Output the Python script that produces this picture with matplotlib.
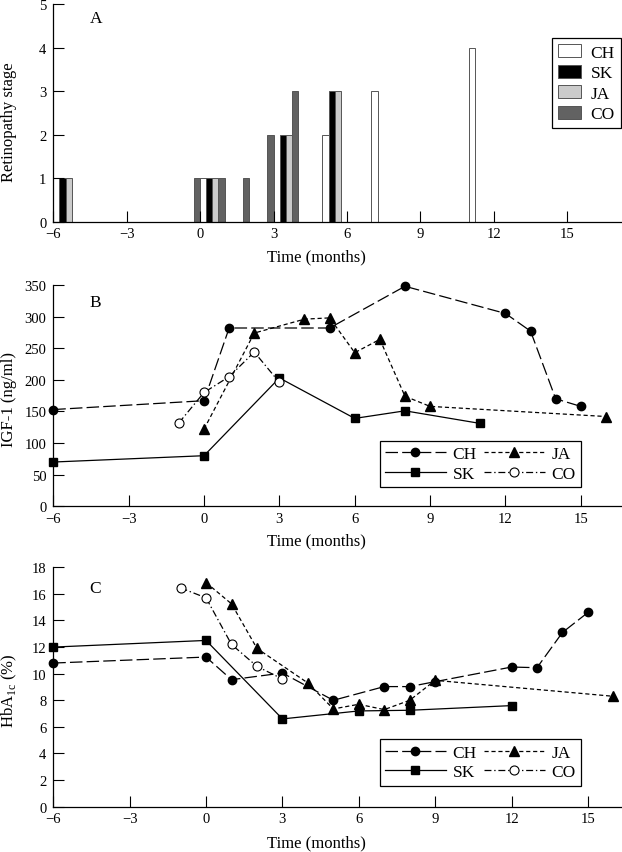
import matplotlib
matplotlib.use('Agg')
import matplotlib.pyplot as plt
from matplotlib.patches import Patch
from matplotlib.lines import Line2D

plt.rcParams['font.family'] = ['Liberation Serif', 'DejaVu Serif']
plt.rcParams['mathtext.fontset'] = 'custom'
plt.rcParams['mathtext.rm'] = 'Liberation Serif'
plt.rcParams['lines.scale_dashes'] = False

# ---------------- Data ----------------
patients = ['CH', 'SK', 'JA', 'CO']

# Panel A: retinopathy stage
ret_ch_t = [0, 5, 7, 11]
ret_ch_v = [1, 2, 3, 4]
ret_sk_t = [-6, 0, 3, 5]
ret_sk_v = [1, 1, 2, 3]
ret_ja_t = [-6, 0, 3, 5]
ret_ja_v = [1, 1, 2, 3]
ret_co_t = [0, 1, 2, 3, 4]
ret_co_v = [1, 1, 1, 2, 3]

# Panel B: IGF-1 (ng/ml)
igf_ch_t = [-6, 0, 1, 5, 8, 12, 13, 14, 15]
igf_ch_v = [153, 167, 282, 282, 348, 305, 277, 170, 158]
igf_sk_t = [-6, 0, 3, 6, 8, 11]
igf_sk_v = [70, 80, 203, 139, 151, 131]
igf_ja_t = [0, 2, 4, 5, 6, 7, 8, 9, 16]
igf_ja_v = [122, 274, 296, 298, 243, 264, 174, 158, 142]
igf_co_t = [-1, 0, 1, 2, 3]
igf_co_v = [132, 180, 205, 244, 196]

# Panel C: HbA1c (%)
hba_ch_t = [-6, 0, 1, 3, 5, 7, 8, 9, 12, 13, 14, 15]
hba_ch_v = [10.8, 11.25, 9.55, 10.05, 8.0, 9.03, 9.03, 9.4, 10.5, 10.45, 13.1, 14.6]
hba_sk_t = [-6, 0, 3, 6, 8, 12]
hba_sk_v = [12.0, 12.5, 6.6, 7.2, 7.25, 7.6]
hba_ja_t = [0, 1, 2, 4, 5, 6, 7, 8, 9, 16]
hba_ja_v = [16.85, 15.25, 11.9, 9.3, 7.35, 7.7, 7.3, 8.0, 9.5, 8.3]
hba_co_t = [-1, 0, 1, 2, 3]
hba_co_v = [16.45, 15.7, 12.2, 10.55, 9.6]

xticks = [-6, -3, 0, 3, 6, 9, 12, 15]

# ---------------- Figure ----------------
fig = plt.figure(figsize=(6.22, 8.53), dpi=100)
left, width = 0.0857, 0.9127
axA = fig.add_axes([left, 0.7389, width, 0.2549])
axB = fig.add_axes([left, 0.4053, width, 0.2594])
axC = fig.add_axes([left, 0.0531, width, 0.2807])

LBL = 12
TCK = 10.5


def style(ax):
    for s in ['top', 'right']:
        ax.spines[s].set_visible(False)
    for s in ['left', 'bottom']:
        ax.spines[s].set_linewidth(0.9)
    ax.tick_params(direction='in', length=8, width=0.8, labelsize=TCK)
    ax.tick_params(axis='y', pad=5)
    ax.tick_params(axis='x', pad=4)
    ax.set_xticks(xticks)


# ---- Panel A ----
bar_w = 0.25
bar_specs = [
    (ret_co_t, ret_co_v, -0.25, '#626262'),
    (ret_ch_t, ret_ch_v, 0.0, 'white'),
    (ret_sk_t, ret_sk_v, 0.25, 'black'),
    (ret_ja_t, ret_ja_v, 0.5, '#cbcbcb'),
]
for t, v, off, col in bar_specs:
    axA.bar([x + off for x in t], v, width=bar_w, align='edge', color=col,
            edgecolor='#555555', linewidth=0.7)
style(axA)
axA.set_xlim(-6, 17.2)
axA.set_ylim(0, 5)
axA.set_yticks(range(6))
axA.set_ylabel('Retinopathy stage', fontsize=LBL)
axA.set_xlabel('Time (months)', fontsize=LBL)
axA.text(0.064, 0.937, 'A', transform=axA.transAxes, fontsize=12.5,
         ha='left', va='center')
a_handles = [Patch(facecolor='white', edgecolor='#555555', lw=0.7),
             Patch(facecolor='black', edgecolor='#555555', lw=0.7),
             Patch(facecolor='#cbcbcb', edgecolor='#555555', lw=0.7),
             Patch(facecolor='#626262', edgecolor='#555555', lw=0.7)]
legA = axA.legend(a_handles, patients, loc='upper right', bbox_to_anchor=(1.0, 0.845),
                  fontsize=12.5, frameon=True, fancybox=False, framealpha=1,
                  edgecolor='black', handlelength=1.35, handleheight=0.8,
                  handletextpad=0.55, labelspacing=0.22, borderpad=0.35,
                  borderaxespad=0)
legA.get_frame().set_linewidth(0.9)

# ---- line styles ----
sty = {
    'CH': dict(color='black', lw=0.9, linestyle=(0, (9, 3)), marker='o',
               markersize=6, markerfacecolor='black', markeredgecolor='black'),
    'SK': dict(color='black', lw=0.9, linestyle='-', marker='s',
               markersize=5.5, markerfacecolor='black', markeredgecolor='black'),
    'JA': dict(color='black', lw=0.9, linestyle=(0, (3, 2)), marker='^',
               markersize=6.5, markerfacecolor='black', markeredgecolor='black'),
    'CO': dict(color='black', lw=0.9, linestyle=(0, (5, 2, 1, 2)), marker='o',
               markersize=6.5, markerfacecolor='white', markeredgecolor='black',
               markeredgewidth=0.8),
}


def line_legend(ax, extra_right):
    handles = [Line2D([], [], **sty[p]) for p in patients]
    leg = ax.legend(handles, patients, ncol=2, loc='lower left',
                    bbox_to_anchor=(0.575, 0.088), fontsize=12.5, frameon=True,
                    fancybox=False, framealpha=1, edgecolor='black',
                    handlelength=3.5, handletextpad=0.4, columnspacing=0.4,
                    labelspacing=0.2, borderpad=0.3, borderaxespad=0,
                    numpoints=1)
    leg.get_frame().set_linewidth(0.9)
    if extra_right:
        # reference legend box has extra blank space on its right side
        fig.canvas.draw()
        bb = leg.get_frame().get_bbox()
        leg.get_frame().set_width(bb.width + extra_right)


# ---- Panel B ----
for p, t, v in [('CH', igf_ch_t, igf_ch_v), ('SK', igf_sk_t, igf_sk_v),
                ('JA', igf_ja_t, igf_ja_v), ('CO', igf_co_t, igf_co_v)]:
    axB.plot(t, v, clip_on=False, **sty[p])
style(axB)
axB.set_xlim(-6, 16.6)
axB.set_ylim(0, 350)
axB.set_yticks(range(0, 351, 50))
axB.set_ylabel('IGF-1 (ng/ml)', fontsize=LBL)
axB.set_xlabel('Time (months)', fontsize=LBL)
axB.text(0.064, 0.923, 'B', transform=axB.transAxes, fontsize=12.5,
         ha='left', va='center')

# ---- Panel C ----
for p, t, v in [('CH', hba_ch_t, hba_ch_v), ('SK', hba_sk_t, hba_sk_v),
                ('JA', hba_ja_t, hba_ja_v), ('CO', hba_co_t, hba_co_v)]:
    axC.plot(t, v, clip_on=False, **sty[p])
style(axC)
axC.set_xlim(-6, 16.3)
axC.set_ylim(0, 18)
axC.set_yticks(range(0, 19, 2))
axC.set_ylabel(r'HbA$_\mathregular{1c}$ (%)', fontsize=LBL)
axC.set_xlabel('Time (months)', fontsize=LBL)
axC.text(0.064, 0.914, 'C', transform=axC.transAxes, fontsize=12.5,
         ha='left', va='center')

# label placement
for ax, xl_y, yl_y in [(axA, -0.161, 0.463), (axB, -0.155, 0.489), (axC, -0.147, 0.49)]:
    ax.xaxis.set_label_coords(0.463, xl_y)
    ax.xaxis.label.set_va('center')
    ax.yaxis.set_label_coords(-0.078, yl_y)
    ax.yaxis.label.set_va('center')

line_legend(axB, 0)
line_legend(axC, 0)

fig.savefig('out.png', dpi=100)
